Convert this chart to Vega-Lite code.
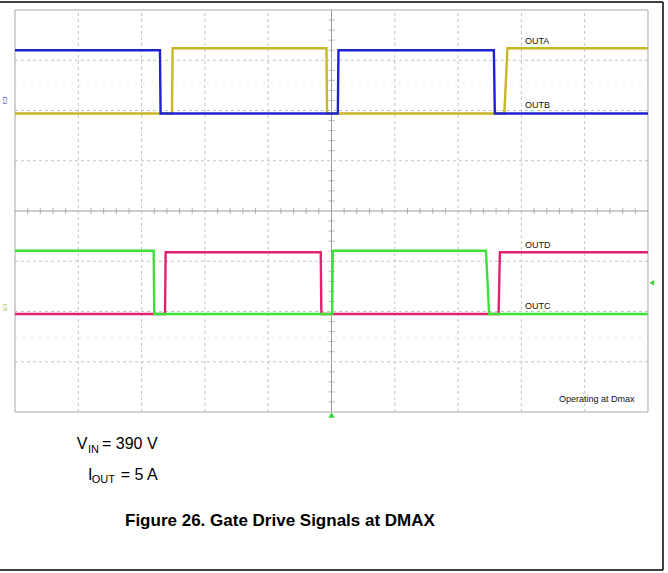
{
  "$schema": "https://vega.github.io/schema/vega-lite/v6.json",
  "width": 668,
  "height": 573,
  "autosize": {"type": "none"},
  "padding": 0,
  "background": "white",
  "config": {"view": {"stroke": null}},
  "datasets": {
    "sig": [
      {"s": "OUTA", "i": 0, "x": 0, "y": 5.94}, {"s": "OUTA", "i": 1, "x": 2.48, "y": 5.94}, {"s": "OUTA", "i": 2, "x": 2.49, "y": 7.24}, {"s": "OUTA", "i": 3, "x": 4.92, "y": 7.24}, {"s": "OUTA", "i": 4, "x": 4.93, "y": 5.94}, {"s": "OUTA", "i": 5, "x": 7.73, "y": 5.94}, {"s": "OUTA", "i": 6, "x": 7.78, "y": 7.24}, {"s": "OUTA", "i": 7, "x": 10, "y": 7.24},
      {"s": "OUTB", "i": 0, "x": 0, "y": 7.2}, {"s": "OUTB", "i": 1, "x": 2.29, "y": 7.2}, {"s": "OUTB", "i": 2, "x": 2.30, "y": 5.94}, {"s": "OUTB", "i": 3, "x": 5.10, "y": 5.94}, {"s": "OUTB", "i": 4, "x": 5.11, "y": 7.2}, {"s": "OUTB", "i": 5, "x": 7.565, "y": 7.2}, {"s": "OUTB", "i": 6, "x": 7.58, "y": 5.94}, {"s": "OUTB", "i": 7, "x": 10, "y": 5.94},
      {"s": "OUTD", "i": 0, "x": 0, "y": 1.95}, {"s": "OUTD", "i": 1, "x": 2.37, "y": 1.95}, {"s": "OUTD", "i": 2, "x": 2.38, "y": 3.18}, {"s": "OUTD", "i": 3, "x": 4.83, "y": 3.18}, {"s": "OUTD", "i": 4, "x": 4.84, "y": 1.95}, {"s": "OUTD", "i": 5, "x": 7.64, "y": 1.95}, {"s": "OUTD", "i": 6, "x": 7.66, "y": 3.18}, {"s": "OUTD", "i": 7, "x": 10, "y": 3.18},
      {"s": "OUTC", "i": 0, "x": 0, "y": 3.21}, {"s": "OUTC", "i": 1, "x": 2.19, "y": 3.21}, {"s": "OUTC", "i": 2, "x": 2.20, "y": 1.95}, {"s": "OUTC", "i": 3, "x": 5.01, "y": 1.95}, {"s": "OUTC", "i": 4, "x": 5.02, "y": 3.21}, {"s": "OUTC", "i": 5, "x": 7.44, "y": 3.21}, {"s": "OUTC", "i": 6, "x": 7.49, "y": 1.95}, {"s": "OUTC", "i": 7, "x": 10, "y": 1.95}
    ],
    "labels": [
      {"x": 8.057, "y": 7.383, "t": "OUTA"},
      {"x": 8.057, "y": 6.109, "t": "OUTB"},
      {"x": 8.057, "y": 3.323, "t": "OUTD"},
      {"x": 8.057, "y": 2.109, "t": "OUTC"},
      {"x": 8.594, "y": 0.259, "t": "Operating at Dmax"}
    ],
    "big": [
      {"x": 0.975, "y": -0.742, "t": "V"},
      {"x": 1.374, "y": -0.742, "t": "= 390 V"},
      {"x": 1.153, "y": -1.353, "t": "I"},
      {"x": 1.67, "y": -1.353, "t": "= 5 A"}
    ],
    "sub": [
      {"x": 1.153, "y": -0.816, "t": "IN"},
      {"x": 1.212, "y": -1.413, "t": "OUT"}
    ],
    "caption": [
      {"x": 1.738, "y": -2.269, "t": "Figure 26. Gate Drive Signals at DMAX"}
    ],
    "vgrid": [{"x": 1}, {"x": 2}, {"x": 3}, {"x": 4}, {"x": 6}, {"x": 7}, {"x": 8}, {"x": 9}],
    "hgrid": [{"y": 1}, {"y": 2}, {"y": 3}, {"y": 5}, {"y": 6}, {"y": 7}],
    "faint": [{"y": 6.547}, {"y": 1.493}],
    "xticks": [
      {"x": 0.2}, {"x": 0.4}, {"x": 0.6}, {"x": 0.8}, {"x": 1.2}, {"x": 1.4}, {"x": 1.6}, {"x": 1.8},
      {"x": 2.2}, {"x": 2.4}, {"x": 2.6}, {"x": 2.8}, {"x": 3.2}, {"x": 3.4}, {"x": 3.6}, {"x": 3.8},
      {"x": 4.2}, {"x": 4.4}, {"x": 4.6}, {"x": 4.8}, {"x": 5.2}, {"x": 5.4}, {"x": 5.6}, {"x": 5.8},
      {"x": 6.2}, {"x": 6.4}, {"x": 6.6}, {"x": 6.8}, {"x": 7.2}, {"x": 7.4}, {"x": 7.6}, {"x": 7.8},
      {"x": 8.2}, {"x": 8.4}, {"x": 8.6}, {"x": 8.8}, {"x": 9.2}, {"x": 9.4}, {"x": 9.6}, {"x": 9.8}
    ],
    "yticks": [
      {"y": 0.2}, {"y": 0.4}, {"y": 0.6}, {"y": 0.8}, {"y": 1.2}, {"y": 1.4}, {"y": 1.6}, {"y": 1.8},
      {"y": 2.2}, {"y": 2.4}, {"y": 2.6}, {"y": 2.8}, {"y": 3.2}, {"y": 3.4}, {"y": 3.6}, {"y": 3.8},
      {"y": 4.2}, {"y": 4.4}, {"y": 4.6}, {"y": 4.8}, {"y": 5.2}, {"y": 5.4}, {"y": 5.6}, {"y": 5.8},
      {"y": 6.2}, {"y": 6.4}, {"y": 6.6}, {"y": 6.8}, {"y": 7.2}, {"y": 7.4}, {"y": 7.6}, {"y": 7.8}
    ],
    "markers": [{"x": 5, "y": -0.06, "m": "trig"}],
    "rmarkers": [{"x": 10.06, "y": 2.57, "m": "lvl"}],
    "chan": [
      {"x": -0.16, "y": 6.2, "t": "C3", "c": "c3"},
      {"x": -0.16, "y": 2.08, "t": "C8", "c": "c8"}
    ]
  },
  "resolve": {"scale": {"color": "independent"}},
  "layer": [
    {
      "data": {"name": "faint"},
      "mark": {"type": "rule", "color": "#e6e6e6", "strokeWidth": 1, "strokeDash": [2, 6]},
      "encoding": {
        "y": {"field": "y", "type": "quantitative", "scale": {"domain": [-3.204, 8.199], "nice": false, "zero": false}, "axis": null},
        "x": {"datum": 0, "type": "quantitative", "scale": {"domain": [-0.237, 10.316], "nice": false, "zero": false}, "axis": null},
        "x2": {"datum": 10}
      }
    },
    {
      "data": {"name": "vgrid"},
      "mark": {"type": "rule", "color": "#c4c4c4", "strokeWidth": 1, "strokeDash": [3, 3]},
      "encoding": {
        "x": {"field": "x", "type": "quantitative"},
        "y": {"datum": 0, "type": "quantitative"},
        "y2": {"datum": 8}
      }
    },
    {
      "data": {"name": "hgrid"},
      "mark": {"type": "rule", "color": "#c4c4c4", "strokeWidth": 1, "strokeDash": [3, 3]},
      "encoding": {
        "y": {"field": "y", "type": "quantitative"},
        "x": {"datum": 0, "type": "quantitative"},
        "x2": {"datum": 10}
      }
    },
    {
      "data": {"values": [{}]},
      "mark": {"type": "rect", "fill": null, "stroke": "#a8a8a8", "strokeWidth": 1},
      "encoding": {
        "x": {"datum": 0, "type": "quantitative"},
        "x2": {"datum": 10},
        "y": {"datum": 0, "type": "quantitative"},
        "y2": {"datum": 8}
      }
    },
    {
      "data": {"values": [{}]},
      "mark": {"type": "rule", "color": "#9a9a9a", "strokeWidth": 1},
      "encoding": {
        "x": {"datum": 5, "type": "quantitative"},
        "y": {"datum": 0, "type": "quantitative"},
        "y2": {"datum": 8}
      }
    },
    {
      "data": {"values": [{}]},
      "mark": {"type": "rule", "color": "#9a9a9a", "strokeWidth": 1},
      "encoding": {
        "y": {"datum": 4, "type": "quantitative"},
        "x": {"datum": 0, "type": "quantitative"},
        "x2": {"datum": 10}
      }
    },
    {
      "data": {"name": "xticks"},
      "mark": {"type": "tick", "color": "#9a9a9a", "orient": "vertical", "size": 6, "thickness": 1},
      "encoding": {
        "x": {"field": "x", "type": "quantitative"},
        "y": {"datum": 4, "type": "quantitative"}
      }
    },
    {
      "data": {"name": "yticks"},
      "mark": {"type": "tick", "color": "#9a9a9a", "orient": "horizontal", "size": 6, "thickness": 1},
      "encoding": {
        "y": {"field": "y", "type": "quantitative"},
        "x": {"datum": 5, "type": "quantitative"}
      }
    },
    {
      "data": {"name": "sig"},
      "mark": {"type": "line", "strokeWidth": 2.4, "interpolate": "linear"},
      "encoding": {
        "x": {"field": "x", "type": "quantitative"},
        "y": {"field": "y", "type": "quantitative"},
        "order": {"field": "i", "type": "quantitative"},
        "color": {
          "field": "s", "type": "nominal", "legend": null,
          "scale": {"domain": ["OUTA", "OUTB", "OUTD", "OUTC"], "range": ["#c8b828", "#1e22d0", "#e2206e", "#3ae23a"]},
          "sort": ["OUTA", "OUTB", "OUTD", "OUTC"]
        }
      }
    },
    {
      "data": {"name": "labels"},
      "mark": {"type": "text", "align": "left", "baseline": "middle", "fontSize": 9, "font": "Liberation Sans", "color": "#111111"},
      "encoding": {
        "x": {"field": "x", "type": "quantitative"},
        "y": {"field": "y", "type": "quantitative"},
        "text": {"field": "t"}
      }
    },
    {
      "data": {"name": "chan"},
      "mark": {"type": "text", "align": "center", "baseline": "middle", "fontSize": 6, "angle": 90, "font": "Liberation Sans"},
      "encoding": {
        "x": {"field": "x", "type": "quantitative"},
        "y": {"field": "y", "type": "quantitative"},
        "text": {"field": "t"},
        "color": {"field": "c", "type": "nominal", "legend": null, "scale": {"domain": ["c3", "c8"], "range": ["#2a2ab0", "#a0c040"]}}
      }
    },
    {
      "data": {"name": "markers"},
      "mark": {"type": "point", "shape": "triangle-up", "filled": true, "size": 40, "color": "#3ad23a", "opacity": 1},
      "encoding": {
        "x": {"field": "x", "type": "quantitative"},
        "y": {"field": "y", "type": "quantitative"}
      }
    },
    {
      "data": {"name": "rmarkers"},
      "mark": {"type": "point", "shape": "triangle-left", "filled": true, "size": 30, "color": "#3ad23a", "opacity": 1},
      "encoding": {
        "x": {"field": "x", "type": "quantitative"},
        "y": {"field": "y", "type": "quantitative"}
      }
    },
    {
      "data": {"values": [{}]},
      "mark": {"type": "rule", "color": "#000000", "strokeWidth": 1.5},
      "encoding": {
        "y": {"datum": 8.159, "type": "quantitative"},
        "x": {"datum": -0.237, "type": "quantitative"},
        "x2": {"datum": 10.237}
      }
    },
    {
      "data": {"values": [{}]},
      "mark": {"type": "rule", "color": "#000000", "strokeWidth": 1.5},
      "encoding": {
        "y": {"datum": -3.144, "type": "quantitative"},
        "x": {"datum": -0.237, "type": "quantitative"},
        "x2": {"datum": 10.237}
      }
    },
    {
      "data": {"values": [{}]},
      "mark": {"type": "rule", "color": "#000000", "strokeWidth": 1.5},
      "encoding": {
        "x": {"datum": 10.237, "type": "quantitative"},
        "y": {"datum": -3.144, "type": "quantitative"},
        "y2": {"datum": 8.159}
      }
    },
    {
      "data": {"name": "big"},
      "mark": {"type": "text", "align": "left", "baseline": "alphabetic", "fontSize": 16, "font": "Liberation Sans", "color": "#000000"},
      "encoding": {
        "x": {"field": "x", "type": "quantitative"},
        "y": {"field": "y", "type": "quantitative"},
        "text": {"field": "t"}
      }
    },
    {
      "data": {"name": "sub"},
      "mark": {"type": "text", "align": "left", "baseline": "alphabetic", "fontSize": 11, "font": "Liberation Sans", "color": "#000000"},
      "encoding": {
        "x": {"field": "x", "type": "quantitative"},
        "y": {"field": "y", "type": "quantitative"},
        "text": {"field": "t"}
      }
    },
    {
      "data": {"name": "caption"},
      "mark": {"type": "text", "align": "left", "baseline": "alphabetic", "fontSize": 17, "fontWeight": "bold", "font": "Liberation Sans", "color": "#000000"},
      "encoding": {
        "x": {"field": "x", "type": "quantitative"},
        "y": {"field": "y", "type": "quantitative"},
        "text": {"field": "t"}
      }
    }
  ]
}
